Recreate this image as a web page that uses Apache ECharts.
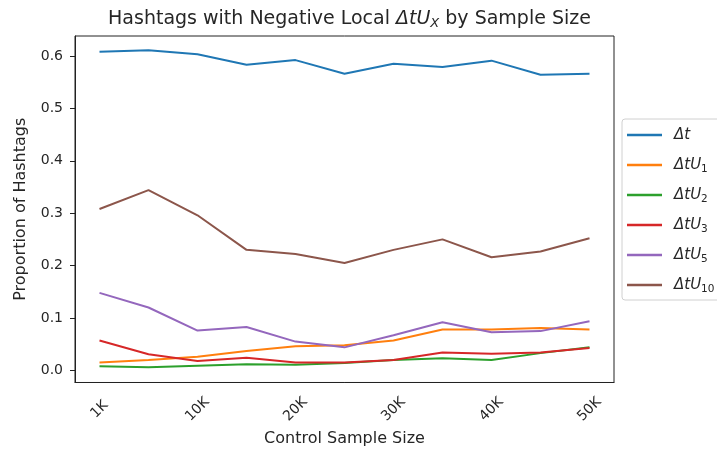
<!DOCTYPE html>
<html><head><meta charset="utf-8">
<script src="https://cdn.jsdelivr.net/npm/echarts@6/dist/echarts.min.js"></script>
<style>html,body{margin:0;padding:0;background:#fff}#c{width:717px;height:452px}</style>
</head><body><div id="c"></div>
<script>
const categories = ['1K','5K','10K','15K','20K','25K','30K','35K','40K','45K','50K'];
const yTicks = [0.0, 0.1, 0.2, 0.3, 0.4, 0.5, 0.6];
const seriesNames = ['dt','dtU1','dtU2','dtU3','dtU5','dtU10'];
const legendSubs = {dt:'', dtU1:'1', dtU2:'2', dtU3:'3', dtU5:'5', dtU10:'10'};
const dt    = [0.608,0.611,0.603,0.583,0.592,0.566,0.585,0.579,0.591,0.564,0.566];
const dtU1  = [0.015,0.020,0.026,0.037,0.046,0.048,0.057,0.078,0.078,0.081,0.078];
const dtU2  = [0.008,0.006,0.009,0.012,0.011,0.014,0.020,0.023,0.020,0.033,0.044];
const dtU3  = [0.057,0.031,0.018,0.024,0.015,0.015,0.020,0.034,0.032,0.034,0.043];
const dtU5  = [0.148,0.120,0.076,0.083,0.055,0.044,0.067,0.092,0.073,0.075,0.094];
const dtU10 = [0.308,0.344,0.296,0.230,0.222,0.205,0.230,0.250,0.216,0.227,0.252];
const values = [dt, dtU1, dtU2, dtU3, dtU5, dtU10];
const colors = ['#1f77b4','#ff7f0e','#2ca02c','#d62728','#9467bd','#8c564b'];

const FONT = 'DejaVu Sans';
const TXT = '#262626';
const chart = echarts.init(document.getElementById('c'), null, {renderer:'canvas'});
chart.setOption({
  animation: false,
  color: colors,
  textStyle: {fontFamily: FONT},
  title: {
    text: '{a|Hashtags with Negative Local }{i|ΔtU}{s|X}{a| by Sample Size}',
    left: 344.5, top: 4, textAlign: 'center',
    textStyle: {
      fontWeight: 'normal',
      rich: {
        a: {fontFamily: FONT, fontSize: 19, fontWeight: 'normal', color: TXT},
        i: {fontFamily: FONT, fontSize: 19, fontWeight: 'normal', fontStyle: 'italic', color: TXT},
        s: {fontFamily: FONT, fontSize: 13, fontWeight: 'normal', fontStyle: 'italic', color: TXT, verticalAlign: 'bottom', padding: [8,0,0,0]}
      }
    }
  },
  grid: {left: 75, right: 103, top: 36, bottom: 68, show: true, borderColor: '#222', borderWidth: 1},
  legend: {
    orient: 'vertical', left: 622, top: 119,
    data: seriesNames,
    icon: 'rect', itemWidth: 35, itemHeight: 2.5, itemGap: 10,
    padding: [6, 12, 5, 5],
    backgroundColor: '#fff', borderColor: '#d0d0d0', borderWidth: 1, borderRadius: 3,
    formatter: function (n) {
      const s = legendSubs[n];
      return s ? '{i|ΔtU}{s|' + s + '}' : '{i|Δt}';
    },
    textStyle: {
      padding: [0,0,0,7], lineHeight: 20,
      rich: {
        i: {fontFamily: FONT, fontSize: 15, fontStyle: 'italic', color: TXT, lineHeight: 20},
        s: {fontFamily: FONT, fontSize: 10.5, color: TXT, verticalAlign: 'bottom', lineHeight: 14}
      }
    }
  },
  xAxis: {
    type: 'category', data: categories, boundaryGap: true,
    name: 'Control Sample Size', nameLocation: 'middle', nameGap: 56,
    nameTextStyle: {fontFamily: FONT, fontSize: 16, color: TXT, verticalAlign: 'middle'},
    axisLine: {onZero: false, lineStyle: {color: '#222', width: 1}},
    axisTick: {alignWithLabel: true, interval: 0, length: 5, lineStyle: {color: '#222'}},
    axisLabel: {interval: 1, rotate: 45, margin: 27, align: 'center', verticalAlign: 'middle',
      fontFamily: FONT, fontSize: 14, color: TXT},
    splitLine: {show: false}
  },
  yAxis: {
    type: 'value', min: -0.023, max: 0.638,
    name: 'Proportion of Hashtags', nameLocation: 'middle', nameGap: 54,
    nameTextStyle: {fontFamily: FONT, fontSize: 16, color: TXT, verticalAlign: 'middle'},
    axisLine: {show: true, lineStyle: {color: '#222', width: 1}},
    axisTick: {show: true, length: 5, lineStyle: {color: '#222'}, customValues: yTicks},
    axisLabel: {customValues: yTicks, formatter: v => v.toFixed(1), margin: 12,
      fontFamily: FONT, fontSize: 14, color: TXT},
    splitLine: {show: false}
  },
  series: seriesNames.map((n, i) => ({
    name: n, type: 'line', data: values[i], symbol: 'none',
    lineStyle: {width: 2, color: colors[i]}, itemStyle: {color: colors[i]}
  }))
});
</script></body></html>
